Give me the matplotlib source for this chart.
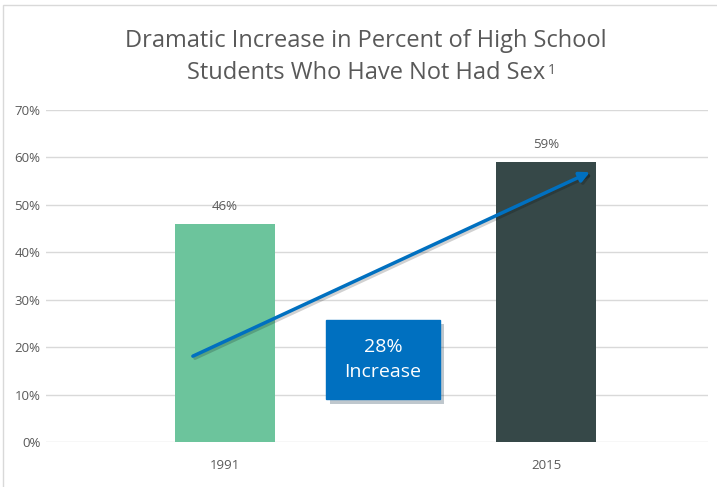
import matplotlib.pyplot as plt
import matplotlib.patheffects as pe
from matplotlib.patches import Rectangle

plt.rcParams["font.family"] = ["Open Sans", "DejaVu Sans"]

# data
years = ["1991", "2015"]
pct = [46, 59]
bar_colors = ["#6CC49C", "#364848"]
arrow_from = (-0.10, 18.1)
arrow_to = (1.137, 56.9)
box_text = "28%\nIncrease"

txt = "#595959"

fig = plt.figure(figsize=(7.17, 4.87), dpi=100)
ax = fig.add_axes([46/717, 45/487, 662/717, 332/487])

x = range(len(years))
ax.bar(x, pct, width=0.31, color=bar_colors, zorder=2)
for xi, v in zip(x, pct):
    ax.text(xi, v + 2.3, "%d%%" % v, ha="center", va="bottom", fontsize=9.5, color=txt)

ax.set_xlim(-0.5576, 1.5047)
ax.set_ylim(0, 70)
ax.set_yticks(range(0, 71, 10))
ax.set_yticklabels(["%d%%" % v for v in range(0, 71, 10)])
ax.set_xticks(list(x))
ax.set_xticklabels(years)
ax.tick_params(length=0, labelsize=9.5, labelcolor=txt)
ax.tick_params(axis="x", pad=12)
ax.tick_params(axis="y", pad=4)
ax.grid(axis="y", color="#D9D9D9", lw=1, zorder=0)
for s in ax.spines.values():
    s.set_visible(False)

# trend arrow
ann = ax.annotate("", xy=arrow_to, xytext=arrow_from,
                  arrowprops=dict(arrowstyle="-|>,head_length=0.6,head_width=0.3",
                                  color="#0070C0", lw=2.5, shrinkA=0, shrinkB=0),
                  zorder=4)
ann.arrow_patch.set_path_effects([pe.SimpleLineShadow(offset=(1.5, -1.5), alpha=0.18), pe.Normal()])

t = ax.text(0.492, 17.4, box_text, ha="center", va="center", fontsize=14, color="white",
            linespacing=1.5, zorder=5,
            bbox=dict(boxstyle="square,pad=0.95", fc="#0070C0", ec="#0070C0"))
t.get_bbox_patch().set_path_effects([pe.SimplePatchShadow(offset=(3, -3), alpha=0.25), pe.Normal()])

fig.text(0.51, 0.915, "Dramatic Increase in Percent of High School", ha="center", va="center",
         fontsize=17, color=txt)
fig.text(0.51, 0.85, "Students Who Have Not Had Sex", ha="center", va="center",
         fontsize=17, color=txt)
fig.text(0.764, 0.855, "1", ha="left", va="center", fontsize=10, color=txt)

fig.patches.append(Rectangle((3/717, -0.01), 1.0, (487-5)/487 + 0.01, transform=fig.transFigure,
                             fill=False, ec="#D9D9D9", lw=1))

fig.savefig("out.png", dpi=100)
